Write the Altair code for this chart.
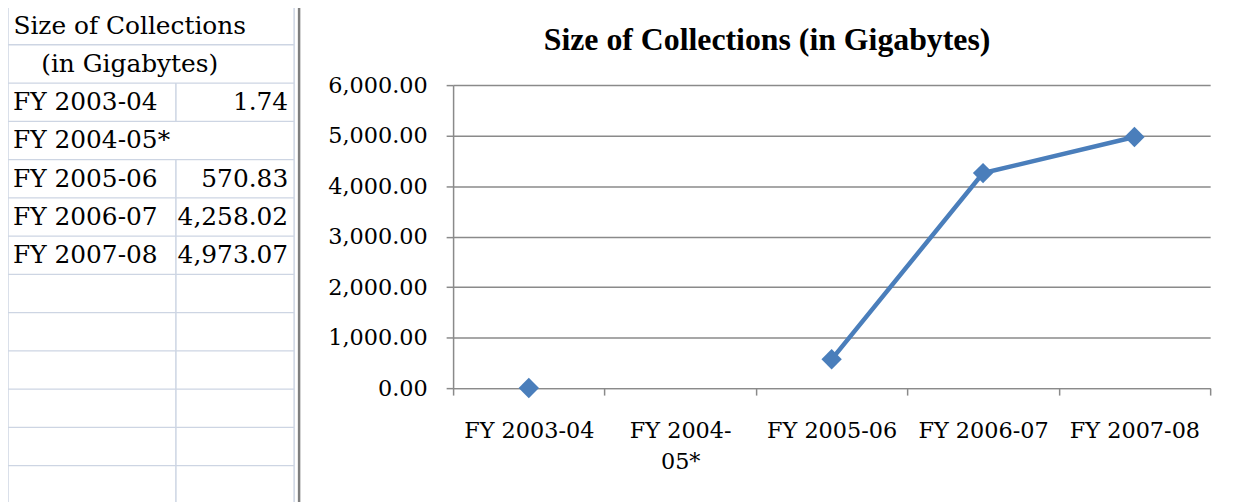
import altair as alt
import pandas as pd

# ---------------- data ----------------
header_lines = ["Size of Collections", "(in Gigabytes)"]
years = ["FY 2003-04", "FY 2004-05*", "FY 2005-06", "FY 2006-07", "FY 2007-08"]
sizes = [1.74, None, 570.83, 4258.02, 4973.07]
y_ticks = [0, 1000, 2000, 3000, 4000, 5000, 6000]
chart_title = "Size of Collections (in Gigabytes)"
blank_rows = 6

# ---------------- styles / layout ----------------
SERIF = "'DejaVu Serif', 'Liberation Serif', serif"
TITLE_FONT = "'Liberation Serif', 'DejaVu Serif', serif"
BLUE = "#4a7ebb"
GRID = "#8a8a8a"
CELL = "#cdd5e3"
FRAME = "#7f7f7f"

W, H = 762, 305
PAD = {"left": 448, "top": 76, "right": 25, "bottom": 113}
TABLE_TOP, ROW_H = -79, 38.5
TABLE_L, COL_DIV, TABLE_R, FRAME_X = -448, -279, -160, -155
LABEL_X, VALUE_X, HEADER_X = -443, -166, -325.5
TABLE_FS = 25
AXIS_FS = 22.5

n_head = len(header_lines)
n_rows = n_head + len(years) + blank_rows
table_bottom = TABLE_TOP + n_rows * ROW_H

header_df = pd.DataFrame({"row": list(range(n_head)), "text": header_lines})
body_df = pd.DataFrame({"row": [n_head + i for i in range(len(years))],
                        "label": years, "value": sizes})
grid_rows = []
for r in range(n_rows):
    if r < n_head:
        overflow = True
    elif r < n_head + len(years):
        overflow = sizes[r - n_head] is None
    else:
        overflow = False
    grid_rows.append({"row": r, "divider": not overflow})
grid_df = pd.DataFrame(grid_rows)
one_df = pd.DataFrame({"t": [chart_title]})
chart_df = pd.DataFrame({"year": years, "size": sizes})

row_scale = alt.Scale(domain=list(range(n_rows)), range=[TABLE_TOP, table_bottom],
                      paddingInner=0, paddingOuter=0)
row_y = alt.Y("row:O", scale=row_scale, axis=None)

# ---------------- table (spreadsheet cells) ----------------
txt = dict(font=SERIF, fontSize=TABLE_FS, color="black", baseline="middle")
header = alt.Chart(header_df).mark_text(align="center", **txt).encode(
    x=alt.value(HEADER_X), y=row_y, text="text:N")
labels = alt.Chart(body_df).mark_text(align="left", **txt).encode(
    x=alt.value(LABEL_X), y=row_y, text="label:N")
values = alt.Chart(body_df).transform_filter("isValid(datum.value)").mark_text(
    align="right", **txt).encode(
    x=alt.value(VALUE_X), y=row_y, text=alt.Text("value:Q", format=",.2f"))
hlines = alt.Chart(grid_df).mark_rule(color=CELL, strokeWidth=1.5).encode(
    y=alt.Y("row:O", scale=row_scale, axis=None, bandPosition=0),
    x=alt.value(TABLE_L), x2=alt.value(TABLE_R))
dividers = alt.Chart(grid_df).transform_filter("datum.divider").mark_rect(color=CELL).encode(
    y=row_y, x=alt.value(COL_DIV - 0.75), x2=alt.value(COL_DIV + 0.75))
edge_l = alt.Chart(one_df).mark_rule(color=CELL, strokeWidth=1.5).encode(
    x=alt.value(TABLE_L), y=alt.value(TABLE_TOP), y2=alt.value(table_bottom))
edge_r = alt.Chart(one_df).mark_rule(color=CELL, strokeWidth=1.5).encode(
    x=alt.value(TABLE_R), y=alt.value(TABLE_TOP), y2=alt.value(table_bottom))
frame = alt.Chart(one_df).mark_rule(color=FRAME, strokeWidth=2.5).encode(
    x=alt.value(FRAME_X), y=alt.value(-90), y2=alt.value(H + 120))

table = alt.layer(hlines, dividers, edge_l, edge_r, frame, header, labels, values)

# ---------------- line chart ----------------
x_enc = alt.X("year:N", sort=years,
              scale=alt.Scale(domain=years, paddingInner=0, paddingOuter=0),
              axis=alt.Axis(title=None, orient="bottom", tickBand="extent", labelAngle=0,
                            labelFont=SERIF, labelFontSize=AXIS_FS, labelColor="black",
                            labelPadding=25, labelLineHeight=31, labelBaseline="top",
                            labelExpr="length(datum.label) > 10 ? [substring(datum.label, 0, 8), substring(datum.label, 8)] : datum.label",
                            tickSize=7, tickColor=GRID, tickWidth=1.5,
                            domainColor=GRID, domainWidth=1.5, grid=False))
y_enc = alt.Y("size:Q",
              scale=alt.Scale(domain=[0, 6000], nice=False, zero=True),
              axis=alt.Axis(title=None, orient="left", values=y_ticks, format=",.2f",
                            labelFont=SERIF, labelFontSize=AXIS_FS, labelColor="black",
                            labelPadding=19, tickSize=7, tickColor=GRID, tickWidth=1.5,
                            grid=True, gridColor=GRID, gridWidth=1.5,
                            domainColor=GRID, domainWidth=1.5))

line = alt.Chart(chart_df).mark_line(color=BLUE, strokeWidth=4.5,
                                     invalid="break-paths-show-domains").encode(x=x_enc, y=y_enc)
pts = alt.Chart(chart_df).mark_point(shape="diamond", filled=True, size=420,
                                     color=BLUE, opacity=1).encode(x=x_enc, y=y_enc)
plot = alt.layer(line, pts)

title = alt.Chart(one_df).mark_text(font=TITLE_FONT, fontSize=32, fontWeight="bold",
                                    align="center", baseline="alphabetic",
                                    color="black").encode(
    x=alt.value(316), y=alt.value(-35), text="t:N")

chart = alt.layer(plot, table, title).resolve_scale(
    x="independent", y="independent"
).properties(
    width=W, height=H, padding=PAD,
    autosize=alt.AutoSizeParams(type="none"),
).configure_view(strokeWidth=0)

chart.save("out.html", embed_options={"renderer": "svg", "actions": False})
